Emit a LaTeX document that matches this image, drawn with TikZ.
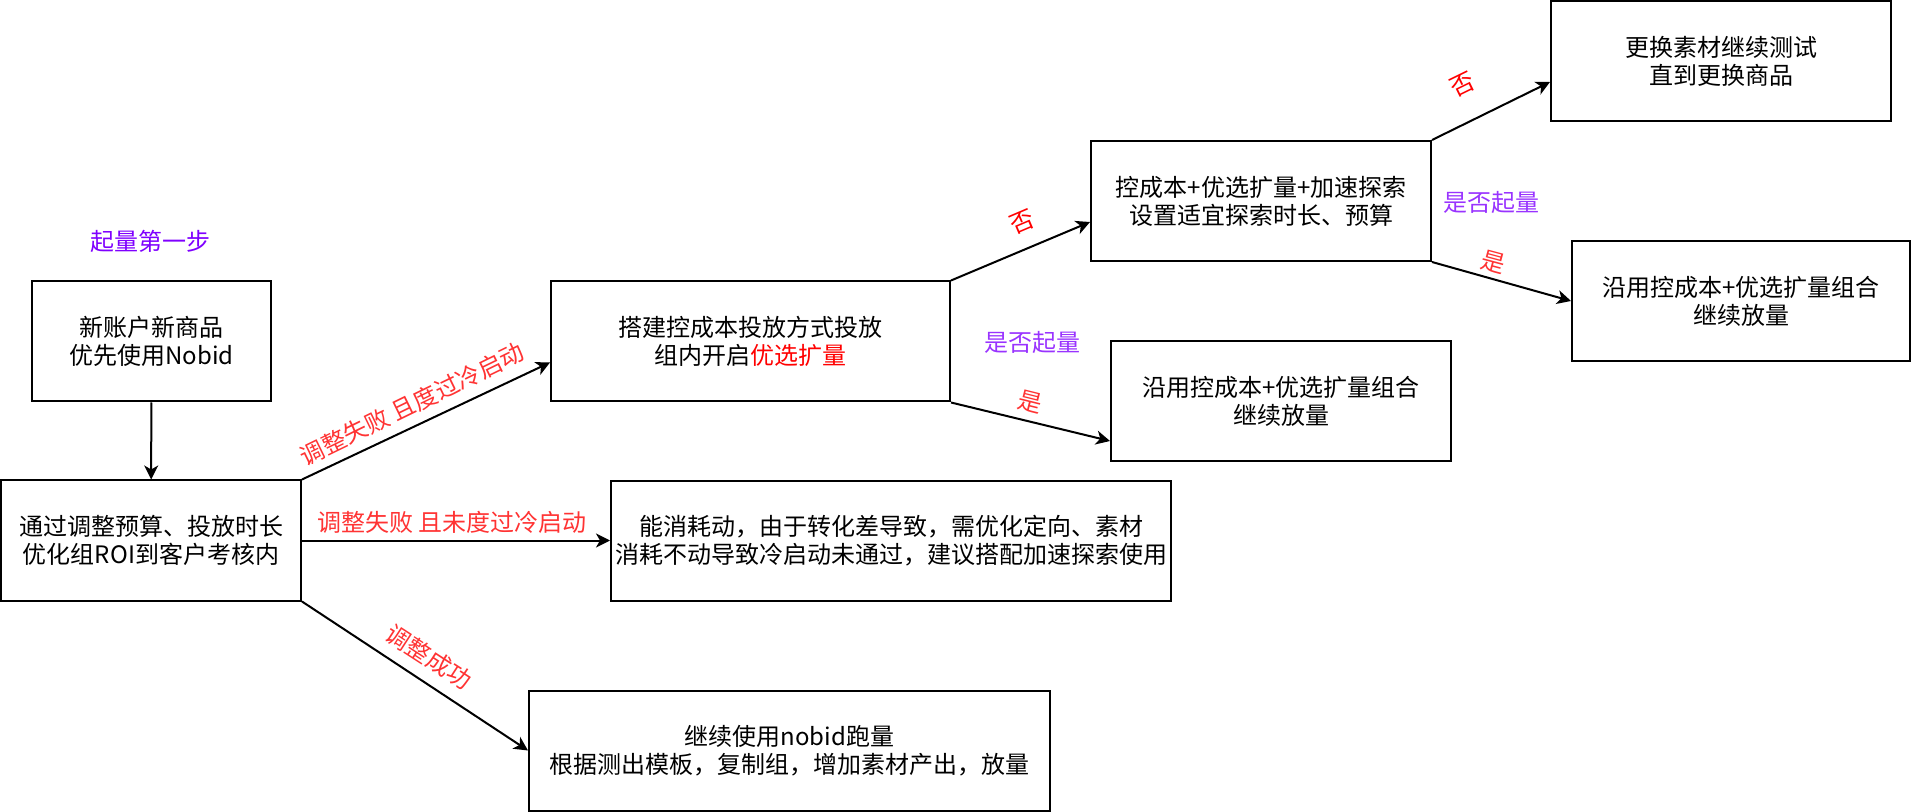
\documentclass[tikz,border=0pt]{standalone}
\usepackage{fontspec}
\setmainfont{Noto Sans CJK SC}
\usepackage{xcolor}
\usepackage{tikz}
\usetikzlibrary{arrows.meta,positioning,calc}
\definecolor{Violet}{HTML}{7F00FF}
\definecolor{Lilac}{HTML}{9933FF}
\definecolor{Red}{HTML}{FF0000}
\definecolor{Coral}{HTML}{FF3333}

\begin{document}
\begin{tikzpicture}[x=0.5pt,y=-0.5pt,font=\fontsize{12}{14}\selectfont,
  box/.style={draw,line width=1pt,align=center,inner sep=0pt,minimum height=60pt},
  flow/.style={line width=1pt,-{Stealth[length=7pt,width=7pt,inset=2pt]}},
  note/.style={inner sep=0pt,text=#1}]
  \useasboundingbox (0,0) rectangle (1912,812);
  % boxes
  \node[box,minimum width=119.5pt] (start) at (151.5,341.5) {新账户新商品\\优先使用Nobid};
  \node[box,minimum width=150pt] (adjust) at (151,540.5) {通过调整预算、投放时长\\优化组ROI到客户考核内};
  \node[box,minimum width=199.5pt] (build) at (750.5,341.5) {搭建控成本投放方式投放\\组内开启\textcolor{Red}{优选扩量}};
  \node[box,minimum width=280pt] (consume) at (891,541) {能消耗动，由于转化差导致，需优化定向、素材\\消耗不动导致冷启动未通过，建议搭配加速探索使用};
  \node[box,minimum width=260.5pt] (keep) at (789.5,750.5) {继续使用nobid跑量\\根据测出模板，复制组，增加素材产出，放量};
  \node[box,minimum width=170pt] (explore) at (1261,201) {控成本+优选扩量+加速探索\\设置适宜探索时长、预算};
  \node[box,minimum width=170pt] (midkeep) at (1281,401) {沿用控成本+优选扩量组合\\继续放量};
  \node[box,minimum width=170pt] (swap) at (1721,61) {更换素材继续测试\\直到更换商品};
  \node[box,minimum width=169pt] (topkeep) at (1741,301) {沿用控成本+优选扩量组合\\继续放量};

  % connectors
  \draw[flow] (start) -- (adjust);
  \draw[flow] (adjust.north east) -- ([yshift=-10.5pt]build.west);
  \draw[flow] (adjust.east) -- (adjust.east -| consume.west);
  \draw[flow] (adjust.south east) -- (keep.west);
  \draw[flow] (build.north east) -- ([yshift=-10.5pt]explore.west);
  \draw[flow] (build.south east) -- ([yshift=-20pt]midkeep.west);
  \draw[flow] (explore.north east) -- ([yshift=-10.5pt]swap.west);
  \draw[flow] (explore.south east) -- (topkeep.west);

  % labels
  \node[note=Violet] (step1) at (150,241) {起量第一步};
  \node[note=Coral,rotate=26] (failpass) at (412,404) {调整失败 且度过冷启动};
  \node[note=Coral] (failcold) at (452,522) {调整失败 且未度过冷启动};
  \node[note=Coral,rotate=-33] (success) at (429,657) {调整成功};
  \node[note=Red,rotate=23] (noA) at (1022,222) {否};
  \node[note=Lilac] (askA) at (1032,342) {是否起量};
  \node[note=Coral,rotate=-14] (yesA) at (1030,402) {是};
  \node[note=Red,rotate=26] (noB) at (1463,85) {否};
  \node[note=Lilac] (askB) at (1491,202) {是否起量};
  \node[note=Coral,rotate=-15] (yesB) at (1493,262) {是};
\end{tikzpicture}
\end{document}
